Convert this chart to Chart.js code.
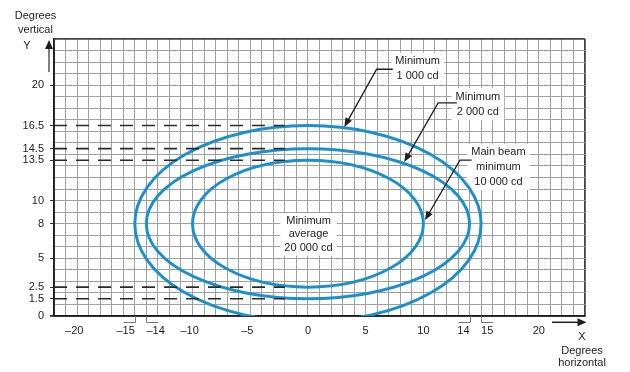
<!DOCTYPE html>
<html>
<head>
<meta charset="utf-8">
<script src="https://cdn.jsdelivr.net/npm/chart.js@4.4.1/dist/chart.umd.min.js"></script>
<style>
html, body { margin: 0; padding: 0; background: #fff; }
#wrap { width: 630px; height: 372px; }
</style>
</head>
<body>
<div id="wrap"><canvas id="myChart" width="630" height="372"></canvas></div>
<script>
/* beam pattern contours, degrees */
const contourLabels = [['Minimum', '1 000 cd'], ['Minimum', '2 000 cd'], ['Main beam', 'minimum', '10 000 cd']];
const contourCentreX = [0, 0, 0];
const contourCentreY = [8, 8, 8];
const contourHalfWidth = [15, 14, 10];
const contourHalfHeight = [8.5, 6.5, 5.5];
const centreLabel = ['Minimum', 'average', '20 000 cd'];

/* dashed reference levels */
const dashLevels = [16.5, 14.5, 13.5, 2.5, 1.5];
const dashFromX = -22;
const dashToX = -2;

/* axis ticks */
const xTickValues = [-20, -15, -14, -10, -5, 0, 5, 10, 14, 15, 20];
const yTickValues = [0, 1.5, 2.5, 5, 8, 10, 13.5, 14.5, 16.5, 20];
const bracketTicks = [-15, -14, 14, 15];

const xMin = -22, xMax = 24, yMin = 0, yMax = 24;

// label nudges (units) so the text sits like the printed sheet
const labelShift = { '-15': -0.8, '-14': 0.8, '14': -0.53, '15': 0.53 };
function shiftFor(v) {
    if (labelShift[v] !== undefined) return labelShift[v];
    return v < 0 ? -0.25 : 0;
}

const xLabelAt = {};
xTickValues.forEach(v => { xLabelAt[(v + shiftFor(v)).toFixed(2)] = (v < 0 ? '\u2013' + (-v) : String(v)); });
const yLabelAt = {};
yTickValues.forEach(v => { yLabelAt[v.toFixed(2)] = String(v); });

function buildTicks(min, max, extra) {
    let m = new Map();
    for (let v = min; v <= max; v++) m.set(v.toFixed(2), v);
    extra.forEach(v => m.set(v.toFixed(2), v));
    return Array.from(m.values()).sort((a, b) => a - b).map(v => ({ value: v }));
}

function gridColor(ctx, min, max) {
    if (!ctx.tick) return 'rgba(0,0,0,0)';
    let v = ctx.tick.value;
    if (Math.abs(v - Math.round(v)) > 0.001) return 'rgba(0,0,0,0)';
    if (v === min || v === max) return '#444';
    return '#a0a0a0';
}
function gridWidth(ctx, min, max) {
    if (!ctx.tick) return 1;
    let v = ctx.tick.value;
    return (v === min || v === max) ? 1.8 : 1;
}

function arrowHead(ctx, fx, fy, tx, ty, len, half) {
    let ang = Math.atan2(ty - fy, tx - fx);
    ctx.beginPath();
    ctx.moveTo(tx, ty);
    ctx.lineTo(tx - len * Math.cos(ang) + half * Math.sin(ang), ty - len * Math.sin(ang) - half * Math.cos(ang));
    ctx.lineTo(tx - len * Math.cos(ang) - half * Math.sin(ang), ty - len * Math.sin(ang) + half * Math.cos(ang));
    ctx.closePath();
    ctx.fill();
}

// callout boxes and leader arrows, in degrees
const callouts = [
    { lines: contourLabels[0], at: [9.5, 21.42], lh: 15, path: [[7.35, 21.38], [5.95, 21.38], [3.15, 16.38]] },
    { lines: contourLabels[1], at: [14.72, 18.35], lh: 15, path: [[12.9, 18.46], [11.28, 18.46], [8.34, 13.35]] },
    { lines: contourLabels[2], at: [16.5, 12.92], lh: 14.7, path: [[14.18, 13.5], [13.17, 13.5], [10.14, 8.31]] },
    { lines: centreLabel, at: [0.05, 7.07], lh: 13.5, path: [] }
];

const FONT = "11px 'Liberation Sans', Arial, sans-serif";

const contourPlugin = {
    id: 'contours',
    beforeDatasetsDraw(chart) {
        const { ctx, chartArea, scales: { x, y } } = chart;
        ctx.save();
        // white backing of the callouts sits under the curves
        ctx.font = FONT;
        ctx.fillStyle = '#fff';
        callouts.forEach(c => {
            let cx = x.getPixelForValue(c.at[0]);
            let cy = y.getPixelForValue(c.at[1]);
            let w = Math.max(...c.lines.map(t => ctx.measureText(t).width)) + 8;
            let h = c.lines.length * c.lh + 2;
            ctx.fillRect(cx - w / 2, cy - h / 2, w, h);
        });
        ctx.beginPath();
        ctx.rect(chartArea.left, chartArea.top, chartArea.right - chartArea.left, chartArea.bottom - chartArea.top);
        ctx.clip();
        ctx.strokeStyle = '#1b90cc';
        ctx.lineWidth = 3;
        for (let i = 0; i < contourHalfWidth.length; i++) {
            let cx = x.getPixelForValue(contourCentreX[i]);
            let cy = y.getPixelForValue(contourCentreY[i]);
            let rx = x.getPixelForValue(contourCentreX[i] + contourHalfWidth[i]) - cx;
            let ry = cy - y.getPixelForValue(contourCentreY[i] + contourHalfHeight[i]);
            ctx.beginPath();
            ctx.ellipse(cx, cy, rx, ry, 0, 0, Math.PI * 2);
            ctx.stroke();
        }
        ctx.restore();
    }
};

const notesPlugin = {
    id: 'notes',
    afterDatasetsDraw(chart) {
        const { ctx, scales: { x, y } } = chart;
        ctx.save();
        ctx.font = FONT;
        ctx.textAlign = 'center';
        ctx.textBaseline = 'middle';
        callouts.forEach(c => {
            let cx = x.getPixelForValue(c.at[0]);
            let cy = y.getPixelForValue(c.at[1]);
            ctx.fillStyle = '#222';
            c.lines.forEach((t, k) => {
                ctx.fillText(t, cx, cy + (k - (c.lines.length - 1) / 2) * c.lh);
            });
            if (c.path.length) {
                let pts = c.path.map(p => [x.getPixelForValue(p[0]), y.getPixelForValue(p[1])]);
                let n = pts.length;
                let a = pts[n - 2], b = pts[n - 1];
                let ang = Math.atan2(b[1] - a[1], b[0] - a[0]);
                ctx.strokeStyle = '#1e1e1e';
                ctx.fillStyle = '#1e1e1e';
                ctx.lineWidth = 1.3;
                ctx.beginPath();
                ctx.moveTo(pts[0][0], pts[0][1]);
                for (let k = 1; k < n - 1; k++) ctx.lineTo(pts[k][0], pts[k][1]);
                ctx.lineTo(b[0] - 7 * Math.cos(ang), b[1] - 7 * Math.sin(ang));
                ctx.stroke();
                arrowHead(ctx, a[0], a[1], b[0], b[1], 9, 3.6);
            }
        });

        // brackets under the -15/-14/14/15 ticks
        ctx.strokeStyle = '#7a7a7a';
        ctx.lineWidth = 1;
        let yb = y.getPixelForValue(0);
        bracketTicks.forEach(v => {
            let dir = (v === -15 || v === 14) ? -1 : 1;
            let px = Math.round(x.getPixelForValue(v)) + 0.5;
            let px2 = Math.round(x.getPixelForValue(v + dir)) + 0.5;
            ctx.beginPath();
            ctx.moveTo(px, yb);
            ctx.lineTo(px, yb + 6.5);
            ctx.lineTo(px2, yb + 6.5);
            ctx.stroke();
        });
        ctx.restore();
    },
    afterDraw(chart) {
        const { ctx, chartArea } = chart;
        const L = chartArea.left, T = chartArea.top, R = chartArea.right, B = chartArea.bottom;
        ctx.save();
        ctx.font = FONT;
        ctx.fillStyle = '#222';
        ctx.textAlign = 'center';
        ctx.textBaseline = 'middle';
        ctx.fillText('Degrees', L - 18.5, T - 22.7);
        ctx.fillText('vertical', L - 18.5, T - 9.2);
        ctx.fillText('Y', L - 27, T + 7.2);
        ctx.fillText('X', R - 3, B + 20.7);
        ctx.fillText('Degrees', R - 3, B + 34.7);
        ctx.fillText('horizontal', R - 3, B + 47);

        // axis arrows
        ctx.strokeStyle = '#555';
        ctx.fillStyle = '#1e1e1e';
        ctx.lineWidth = 1.5;
        ctx.beginPath();
        ctx.moveTo(L - 5, T + 33);
        ctx.lineTo(L - 5, T + 8);
        ctx.stroke();
        arrowHead(ctx, L - 5, T + 33, L - 5, T + 1, 9, 4);
        ctx.strokeStyle = '#1e1e1e';
        ctx.beginPath();
        ctx.moveTo(R - 33, B + 6.3);
        ctx.lineTo(R - 6, B + 6.3);
        ctx.stroke();
        arrowHead(ctx, R - 33, B + 6.3, R + 1.5, B + 6.3, 9, 4);
        ctx.restore();
    }
};

Chart.defaults.font.family = "'Liberation Sans', Arial, sans-serif";
Chart.defaults.font.size = 11;
Chart.defaults.color = '#222';

let ctx = document.getElementById('myChart').getContext('2d');

let myChart = new Chart(ctx, {
    type: 'scatter',
    data: {
        datasets: dashLevels.map(v => ({
            data: [{ x: dashFromX, y: v }, { x: dashToX, y: v }],
            showLine: true,
            borderColor: '#2a2a2a',
            borderWidth: 1.6,
            borderDash: [13, 9],
            pointRadius: 0,
            fill: false
        }))
    },
    options: {
        responsive: false,
        animation: false,
        layout: { padding: { left: 0, top: 39, right: 45, bottom: 0 } },
        plugins: {
            legend: { display: false },
            tooltip: { enabled: false }
        },
        scales: {
            x: {
                type: 'linear',
                min: xMin,
                max: xMax,
                afterBuildTicks: s => { s.ticks = buildTicks(xMin, xMax, xTickValues.map(v => v + shiftFor(v))); },
                afterFit: s => { s.height = 56; },
                ticks: {
                    autoSkip: false,
                    maxRotation: 0,
                    padding: 8,
                    callback: v => xLabelAt[Number(v).toFixed(2)] || ''
                },
                grid: {
                    drawTicks: false,
                    color: c => gridColor(c, xMin, xMax),
                    lineWidth: c => gridWidth(c, xMin, xMax)
                },
                border: { color: '#1e1e1e', width: 1.8 }
            },
            y: {
                type: 'linear',
                min: yMin,
                max: yMax,
                afterBuildTicks: s => { s.ticks = buildTicks(yMin, yMax, yTickValues); },
                afterFit: s => { s.width = 54; },
                ticks: {
                    autoSkip: false,
                    padding: 6,
                    callback: v => yLabelAt[Number(v).toFixed(2)] || ''
                },
                grid: {
                    tickLength: 4,
                    color: c => gridColor(c, yMin, yMax),
                    lineWidth: c => gridWidth(c, yMin, yMax),
                    tickColor: c => (c.tick && yLabelAt[c.tick.value.toFixed(2)] !== undefined) ? '#333' : 'rgba(0,0,0,0)'
                },
                border: { color: '#1e1e1e', width: 1.8 }
            }
        }
    },
    plugins: [contourPlugin, notesPlugin]
});
</script>
</body>
</html>
